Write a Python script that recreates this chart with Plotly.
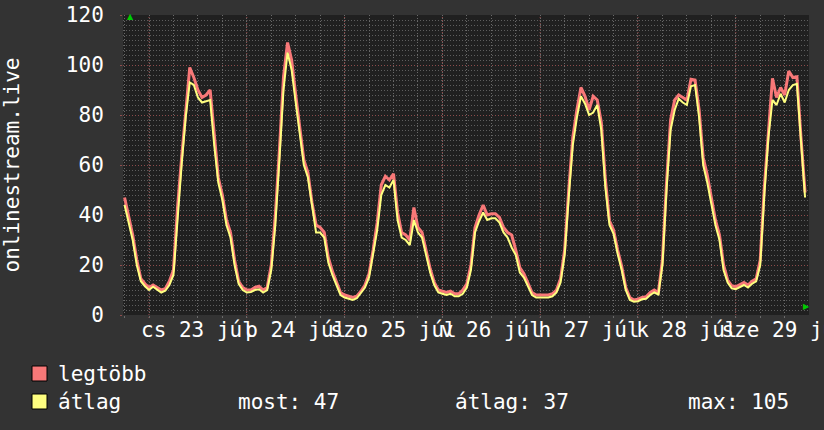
import plotly.graph_objects as go
import pandas as pd

# ---- data (hourly, starting 2015-07-22 18:00) ----
start_time = "2015-07-22 18:00"
avg_vals = [
    44, 37, 30, 20, 13.5, 11.5,
    10, 11.3, 10, 9, 9.7, 12, 16, 40, 60, 79, 93, 92, 87, 85, 85.5, 86, 68, 53, 46, 36, 31, 20, 12.5, 10,
    9, 9.2, 10, 10.3, 9, 10, 18, 36, 62, 90, 105, 98, 85, 73, 60, 55, 43, 33, 33, 31, 21, 16, 12, 8,
    7, 6.5, 6, 6.7, 8.7, 11, 15, 24, 34, 48, 52, 51, 54, 38, 31, 30, 28, 38, 33, 31, 24, 17, 12, 9,
    8.5, 8, 8.5, 7.5, 7.5, 8.5, 11, 18, 33, 37.5, 41, 38, 38.7, 38.7, 37, 33, 31, 27, 24, 17, 15, 11.5, 8, 7,
    7, 7, 7, 7.5, 9, 13, 24, 47, 68, 79, 87.5, 84.5, 80, 81, 84, 74, 51, 36, 32.5, 24.5, 18, 10, 6, 5.3,
    5.5, 6.3, 6.5, 8, 9, 8.2, 20, 50, 74, 82, 86.5, 85, 84, 91.5, 92, 79, 60, 53, 45, 36, 30, 18, 13, 10.7,
    10.3, 11, 12, 11, 12.5, 13.5, 20, 48, 71, 86, 84, 88.5, 85, 90, 92, 92.5, 68, 47,
]
max_vals = [
    47, 39, 32, 22, 14.5, 12.5,
    11, 12, 11, 10, 10.5, 13.5, 18, 43, 63, 82, 99, 95, 90, 87, 88, 90, 71, 55, 48, 38, 33, 22, 13.5, 11,
    10, 10, 11, 11.5, 10, 11, 20, 40, 66, 95, 109, 102, 88, 76, 62, 57, 45, 36, 35, 33, 23, 17.5, 13, 9,
    8, 7.5, 7, 7.5, 9.5, 12, 16.5, 26, 37, 52, 55.5, 54, 56.5, 41, 33, 32, 30, 43, 35, 33, 26, 18.5, 13, 10,
    9.5, 9, 9.5, 8.5, 8.5, 10, 12.5, 20, 35, 40, 44, 40, 40.5, 40.5, 39, 35, 33, 32, 26, 19, 16.5, 12.5, 9, 8,
    8, 8, 8, 8.5, 10, 14.5, 26, 50, 71, 82, 91, 87.5, 82, 87.5, 86, 77, 54, 37.7, 34, 26, 19.5, 11, 7, 6,
    6.3, 7, 7.3, 9, 10, 9, 22, 53, 78, 86, 88, 87, 86, 94.3, 94, 82, 63, 56, 47, 38, 32, 20, 14, 11.7,
    11.3, 12, 13, 12, 13.5, 14.5, 22, 51, 74, 94.7, 87, 91, 88, 97.6, 95, 95.3, 71, 49,
]
day_names = ["cs", "p", "szo", "v", "h", "k", "sze"]
day_dates = ["2015-07-23", "2015-07-24", "2015-07-25", "2015-07-26",
             "2015-07-27", "2015-07-28", "2015-07-29"]
month_name = "júl"
y_ticks = [0, 20, 40, 60, 80, 100, 120]
series_names = ["legtöbb", "átlag"]
stats_text = ["most: 47", "átlag: 37", "max: 105"]
x_range = ["2015-07-22 17:37", "2015-07-29 17:58"]

times = pd.date_range(start_time, periods=len(avg_vals), freq="h")
noon_vals = [pd.Timestamp(d) + pd.Timedelta(hours=12) for d in day_dates]
tick_text = [f"{n} {pd.Timestamp(d).day} {month_name}" for n, d in zip(day_names, day_dates)]

# ---- styles ----
BG = "#333333"
CANVAS = "#202020"
PINK = "#f87878"
YELLOW = "#ffff80"
MGRID = "#8c4c4c"
GRID = "#5e5e5e"
XMGRID = "#9a4c4c"
XGRID = "#6a6a6a"
DASH = "1px,2px"
FONT = "DejaVu Sans Mono"
FS = 21
HOUR_MS = 3600000

L, R, T, B = 123, 15, 15, 115
W, H = 824, 430
PW, PH = W - L - R, H - T - B


def px(xp):
    return (xp - L) / PW


def py(yp):
    return (H - B - yp) / PH


fig = go.Figure()
fig.add_trace(go.Scatter(x=times, y=max_vals, mode="lines", line=dict(color=PINK, width=3),
                         name=series_names[0], xaxis="x", yaxis="y"))
fig.add_trace(go.Scatter(x=times, y=avg_vals, mode="lines", line=dict(color=YELLOW, width=2),
                         name=series_names[1], xaxis="x2", yaxis="y"))

common_x = dict(type="date", automargin=False, showline=False, zeroline=False)

fig.update_layout(
    width=W, height=H,
    margin=dict(l=L, r=R, t=T, b=B),
    paper_bgcolor=BG, plot_bgcolor=CANVAS,
    showlegend=False,
    font=dict(family=FONT, size=FS, color="#ffffff"),
    # 6-hour grid (gray)
    xaxis=dict(
        **common_x, range=x_range,
        tick0="2015-07-23", dtick=6 * HOUR_MS,
        showticklabels=False,
        showgrid=True, gridcolor=XGRID, griddash=DASH, gridwidth=1,
        ticks="outside", ticklen=2, tickcolor=XGRID,
    ),
    # day labels at noon
    xaxis2=dict(
        **common_x, matches="x", overlaying="x", anchor="y", side="bottom",
        tickmode="array", tickvals=noon_vals, ticktext=tick_text,
        tickangle=0, ticklabeloverflow="allow",
        showgrid=False, ticks="",
        tickfont=dict(family=FONT, size=FS, color="#ffffff"),
    ),
    yaxis=dict(
        range=[0, 120], tickmode="array", tickvals=y_ticks, automargin=False,
        showgrid=True, gridcolor=MGRID, griddash=DASH,
        ticks="outside", ticklen=2, tickcolor=MGRID,
        minor=dict(dtick=2, showgrid=True, gridcolor=GRID, griddash=DASH),
        zeroline=False, showline=False,
        ticklabelstandoff=12,
        tickfont=dict(family=FONT, size=FS, color="#ffffff"),
        title=dict(text="onlinestream.live", font=dict(family=FONT, size=FS, color="#ffffff"), standoff=40),
    ),
)

# day-boundary grid lines (red, dotted) at midnight of each labelled day
for d in day_dates:
    fig.add_shape(type="line", xref="x", yref="paper", x0=d, x1=d, y0=py(318), y1=1,
                  layer="below", line=dict(color=XMGRID, width=1, dash=DASH))

# legend boxes
legend_rows = [(PINK, series_names[0], 366), (YELLOW, series_names[1], 394)]
for color, label, ytop in legend_rows:
    fig.add_shape(type="rect", xref="paper", yref="paper",
                  x0=px(32), x1=px(47), y0=py(ytop + 15), y1=py(ytop),
                  fillcolor=color, line=dict(color="#000000", width=1))
    fig.add_annotation(xref="paper", yref="paper", x=px(56), y=py(ytop + 7.5), text=label,
                       showarrow=False, xanchor="left", yanchor="middle",
                       font=dict(family=FONT, size=FS, color="#ffffff"))

for xpos, txt in zip([236, 453, 686], stats_text):
    fig.add_annotation(xref="paper", yref="paper", x=px(xpos), y=py(401.5), text=txt,
                       showarrow=False, xanchor="left", yanchor="middle",
                       font=dict(family=FONT, size=FS, color="#ffffff"))

# axis arrows
fig.add_annotation(xref="paper", yref="paper", x=px(125), y=py(10), text="▲", showarrow=False,
                   font=dict(family="DejaVu Sans", size=8, color="#00cc00"))
fig.add_annotation(xref="paper", yref="paper", x=px(812), y=py(313), text="▶", showarrow=False,
                   font=dict(family="DejaVu Sans", size=8, color="#00cc00"))

fig.write_html("out.html", config={"displayModeBar": False})
